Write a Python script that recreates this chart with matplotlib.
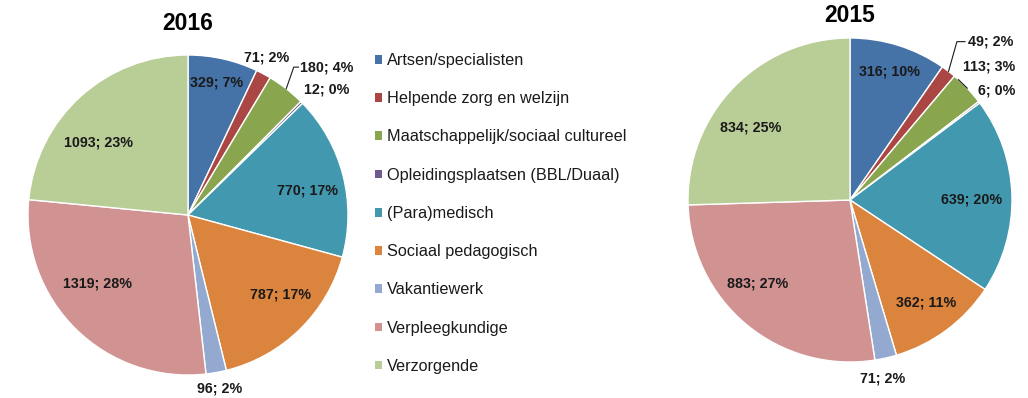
import numpy as np
import matplotlib.pyplot as plt
from matplotlib.patches import Patch

plt.rcParams['font.family'] = ['Liberation Sans', 'DejaVu Sans']

# categories and values
categories = ['Artsen/specialisten', 'Helpende zorg en welzijn',
              'Maatschappelijk/sociaal cultureel', 'Opleidingsplaatsen (BBL/Duaal)',
              '(Para)medisch', 'Sociaal pedagogisch', 'Vakantiewerk',
              'Verpleegkundige', 'Verzorgende']
values_2016 = [329, 71, 180, 12, 770, 787, 96, 1319, 1093]
values_2015 = [316, 49, 113, 6, 639, 362, 71, 883, 834]
pct_2016 = [7, 2, 4, 0, 17, 17, 2, 28, 23]
pct_2015 = [10, 2, 3, 0, 20, 11, 2, 27, 25]

colors = ['#4572A7', '#AA4643', '#89A54E', '#71588F', '#4198AF',
          '#DB843D', '#93A9CF', '#D19392', '#B9CD96']

W, H = 1028, 398
fig = plt.figure(figsize=(W / 100, H / 100), dpi=100)


def polar(r, ang):
    a = np.radians(ang)
    return r * np.sin(a), r * np.cos(a)


def draw_pie(rect, values, pcts, title, title_y, tweaks):
    ax = fig.add_axes(rect)
    wedges, _ = ax.pie(values, colors=colors, startangle=90, counterclock=False,
                       wedgeprops=dict(edgecolor='white', linewidth=1))
    ax.set_xlim(-1, 1)
    ax.set_ylim(-1, 1)
    ax.set_aspect('auto')
    ax.axis('off')
    total = float(sum(values))
    cum = np.cumsum([0] + list(values)) / total * 360
    for i, v in enumerate(values):
        mid = (cum[i] + cum[i + 1]) / 2
        r, dang, ha, leader = tweaks.get(i, (0.75, 0, 'center', None))
        x, y = polar(r, mid + dang)
        ax.text(x, y, '%d; %d%%' % (v, pcts[i]), ha=ha, va='center',
                fontsize=10.3, fontweight='bold', color='#1a1a1a', clip_on=False)
        if leader is not None:
            ex, ey = polar(1.0, mid)
            pts = [(ex, ey)] + [(x + dx, y + dy) for dx, dy in leader]
            ax.plot([p[0] for p in pts], [p[1] for p in pts], color='#1a1a1a',
                    lw=0.8, clip_on=False)
    fig.text(rect[0] + rect[2] / 2, title_y, title, ha='center', va='center',
             fontsize=16.5, fontweight='bold')
    return wedges


tweaks_2016 = {
    0: (0.85, -0.4, 'center', None),
    1: (1.10, -1.6, 'center', None),
    2: (1.16, -0.7, 'left', [(-0.04, 0.0), (-0.01, 0.0)]),
    3: (1.17, 2.4, 'center', None),
    4: (0.76, 3.0, 'center', None),
    5: (0.76, -5.0, 'center', None),
    6: (1.10, -0.3, 'center', None),
    7: (0.71, 8.5, 'center', None),
    8: (0.72, -9.0, 'center', None),
}
tweaks_2015 = {
    0: (0.83, -0.4, 'center', None),
    1: (1.22, -0.7, 'left', [(-0.07, 0.0), (-0.02, 0.0)]),
    2: (1.08, -6.0, 'left', [(-0.03, -0.08)]),
    3: (1.13, 0.5, 'center', None),
    4: (0.75, 1.6, 'center', None),
    5: (0.79, 0.0, 'center', None),
    6: (1.12, 2.3, 'center', None),
    7: (0.77, 8.0, 'center', None),
    8: (0.76, -8.0, 'center', None),
}

wedges = draw_pie([28 / W, 23 / H, 320 / W, 320 / H], values_2016, pct_2016,
                  '2016', 1 - 24 / H, tweaks_2016)
draw_pie([688 / W, 36 / H, 324 / W, 324 / H], values_2015, pct_2015,
         '2015', 1 - 15 / H, tweaks_2015)

handles = [Patch(facecolor=c, edgecolor='none') for c in colors]
fig.legend(handles, categories, loc='upper left', bbox_to_anchor=(375 / W, 1 - 53 / H),
           frameon=False, fontsize=11.7, handlelength=0.45, handleheight=0.45,
           handletextpad=0.3, labelspacing=1.43, borderpad=0, borderaxespad=0,
           labelcolor='#1a1a1a')

fig.savefig('out.png', dpi=100)
